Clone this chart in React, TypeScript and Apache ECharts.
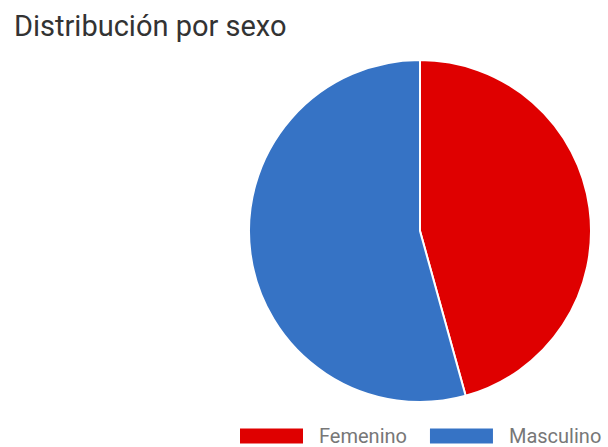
import React, { useEffect, useRef } from "react";
import * as echarts from "echarts";

const categories = ["Femenino", "Masculino"];
const values = [45.7, 54.3];
const colors = ["#df0000", "#3673c5"];

export default function App() {
  const ref = useRef<HTMLDivElement>(null);
  useEffect(() => {
    const chart = echarts.init(ref.current!, null, { renderer: "svg" });
    chart.setOption({
      animation: false,
      title: {
        text: "Distribución por sexo",
        left: 9,
        top: 6,
        textStyle: { fontFamily: "Roboto", fontSize: 29, fontWeight: "normal", color: "#333" },
      },
      legend: {
        left: 238,
        top: 426,
        width: 370,
        padding: 0,
        itemWidth: 65,
        itemHeight: 17,
        itemGap: 21,
        icon: "rect",
        textStyle: { fontFamily: "Roboto", fontSize: 20, color: "#777", padding: [0, 0, 0, 10] },
        data: categories,
      },
      series: [
        {
          type: "pie",
          center: [420, 231],
          radius: 171,
          startAngle: 90,
          clockwise: true,
          label: { show: false },
          labelLine: { show: false },
          itemStyle: { borderColor: "#fff", borderWidth: 2 },
          data: categories.map((c, i) => ({ name: c, value: values[i], itemStyle: { color: colors[i] } })),
        },
      ],
    });
    return () => chart.dispose();
  }, []);
  return <div ref={ref} style={{ position: "absolute", left: 0, top: 0, width: 608, height: 447 }} />;
}
